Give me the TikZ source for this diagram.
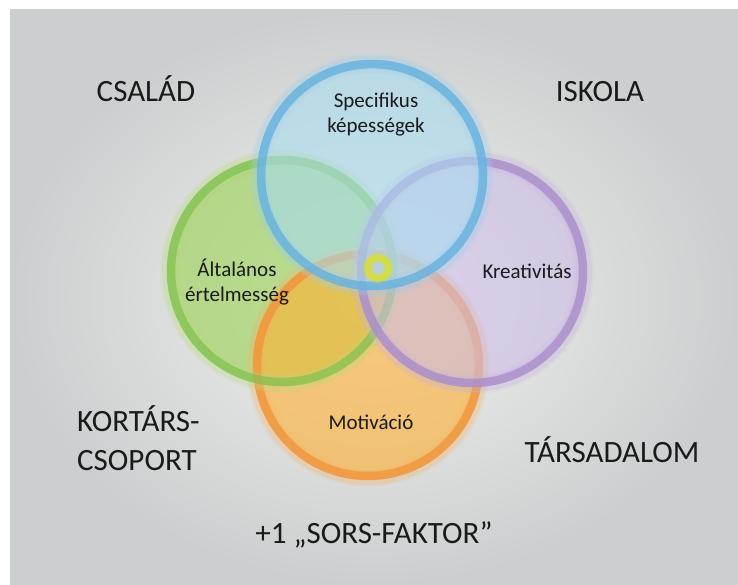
\documentclass[tikz,border=0pt]{standalone}
\usepackage{fontspec}
\setmainfont{Carlito}
\definecolor{bgin}{HTML}{F1F1F1}
\definecolor{bgout}{HTML}{CCCFCF}
\definecolor{textdark}{HTML}{1A1A1A}
\definecolor{bluefill}{HTML}{A8DCF0}
\definecolor{bluerim}{HTML}{58AADC}
\definecolor{bluehalo}{HTML}{9CCFEC}
\definecolor{greenfill}{HTML}{99D250}
\definecolor{greenrim}{HTML}{7CBF4E}
\definecolor{greenhalo}{HTML}{BADC78}
\definecolor{purplefill}{HTML}{CDBCE6}
\definecolor{purplerim}{HTML}{A283C6}
\definecolor{purplehalo}{HTML}{C6B2DC}
\definecolor{orangefill}{HTML}{FFB030}
\definecolor{orangerim}{HTML}{F0892E}
\definecolor{orangehalo}{HTML}{F8B466}
\definecolor{ringc}{HTML}{D6DE3A}
\tikzset{
  discfill/.style={fill=#1, fill opacity=0.6, draw=none},
  rimsoft/.style={draw=#1, line width=20pt, draw opacity=0.12},
  rimhalo/.style={draw=#1, line width=15pt, draw opacity=0.25},
  rimline/.style={draw=#1, line width=8.5pt, draw opacity=0.66},
  biglbl/.style={font=\fontsize{31}{39}\selectfont, text=textdark, inner sep=0pt, anchor=base},
  smalllbl/.style={font=\fontsize{21}{25}\selectfont, text=textdark, inner sep=0pt, anchor=base, align=center}
}
\begin{document}
\begin{tikzpicture}[x=1pt,y=-1pt]
\useasboundingbox (0,0) rectangle (738,585);
\fill[white] (0,0) rectangle (738,585);
\shade[inner color=bgin, outer color=bgout] (10,10) rectangle (738,585);
% centres
\coordinate (cb) at (372,175);
\coordinate (cg) at (282,271);
\coordinate (cp) at (472,272);
\coordinate (co) at (368,365);
\coordinate (ring) at (378,268);
% green and orange
\fill[discfill=greenfill] (cg) circle (115);
\fill[discfill=orangefill] (co) circle (115);
\draw[rimsoft=orangehalo] (co) circle (112);
\draw[rimhalo=orangehalo] (co) circle (112.5);
\draw[rimline=orangerim, draw opacity=0.6] (co) circle (111);
\draw[rimsoft=greenhalo] (cg) circle (112);
\draw[rimhalo=greenhalo] (cg) circle (112.5);
\draw[rimline=greenrim] (cg) circle (111);
% purple
\fill[discfill=purplefill] (cp) circle (115);
\draw[rimsoft=purplehalo] (cp) circle (112);
\draw[rimhalo=purplehalo] (cp) circle (112.5);
\draw[rimline=purplerim] (cp) circle (111);
% blue
\fill[discfill=bluefill] (cb) circle (115);
\draw[rimsoft=bluehalo] (cb) circle (112);
\draw[rimhalo=bluehalo] (cb) circle (112.5);
\draw[rimline=bluerim] (cb) circle (111);
% centre ring
\draw[draw=ringc, line width=10pt, draw opacity=0.3] (ring) circle (10.5);
\draw[draw=ringc, line width=6pt, draw opacity=0.9] (ring) circle (10.5);
% circle labels (base anchor = last line)
\node[smalllbl] (spec) at (376,133) {Specifikus\\képességek};
\node[smalllbl] (alt) at (237,301) {Általános\\értelmesség};
\node[smalllbl] (krea) at (527,278) {Kreativitás};
\node[smalllbl] (moti) at (371,429) {Motiváció};
% outer labels
\node[biglbl] (csalad) at (146,102) {CSALÁD};
\node[biglbl] (iskola) at (600,102) {ISKOLA};
\node[biglbl, align=left, anchor=base west] (kortars) at (77,470) {KORTÁRS-\\CSOPORT};
\node[biglbl] (tars) at (612,462) {TÁRSADALOM};
\node[biglbl] (sors) at (374,543) {+1 „SORS-FAKTOR”};
\end{tikzpicture}
\end{document}
